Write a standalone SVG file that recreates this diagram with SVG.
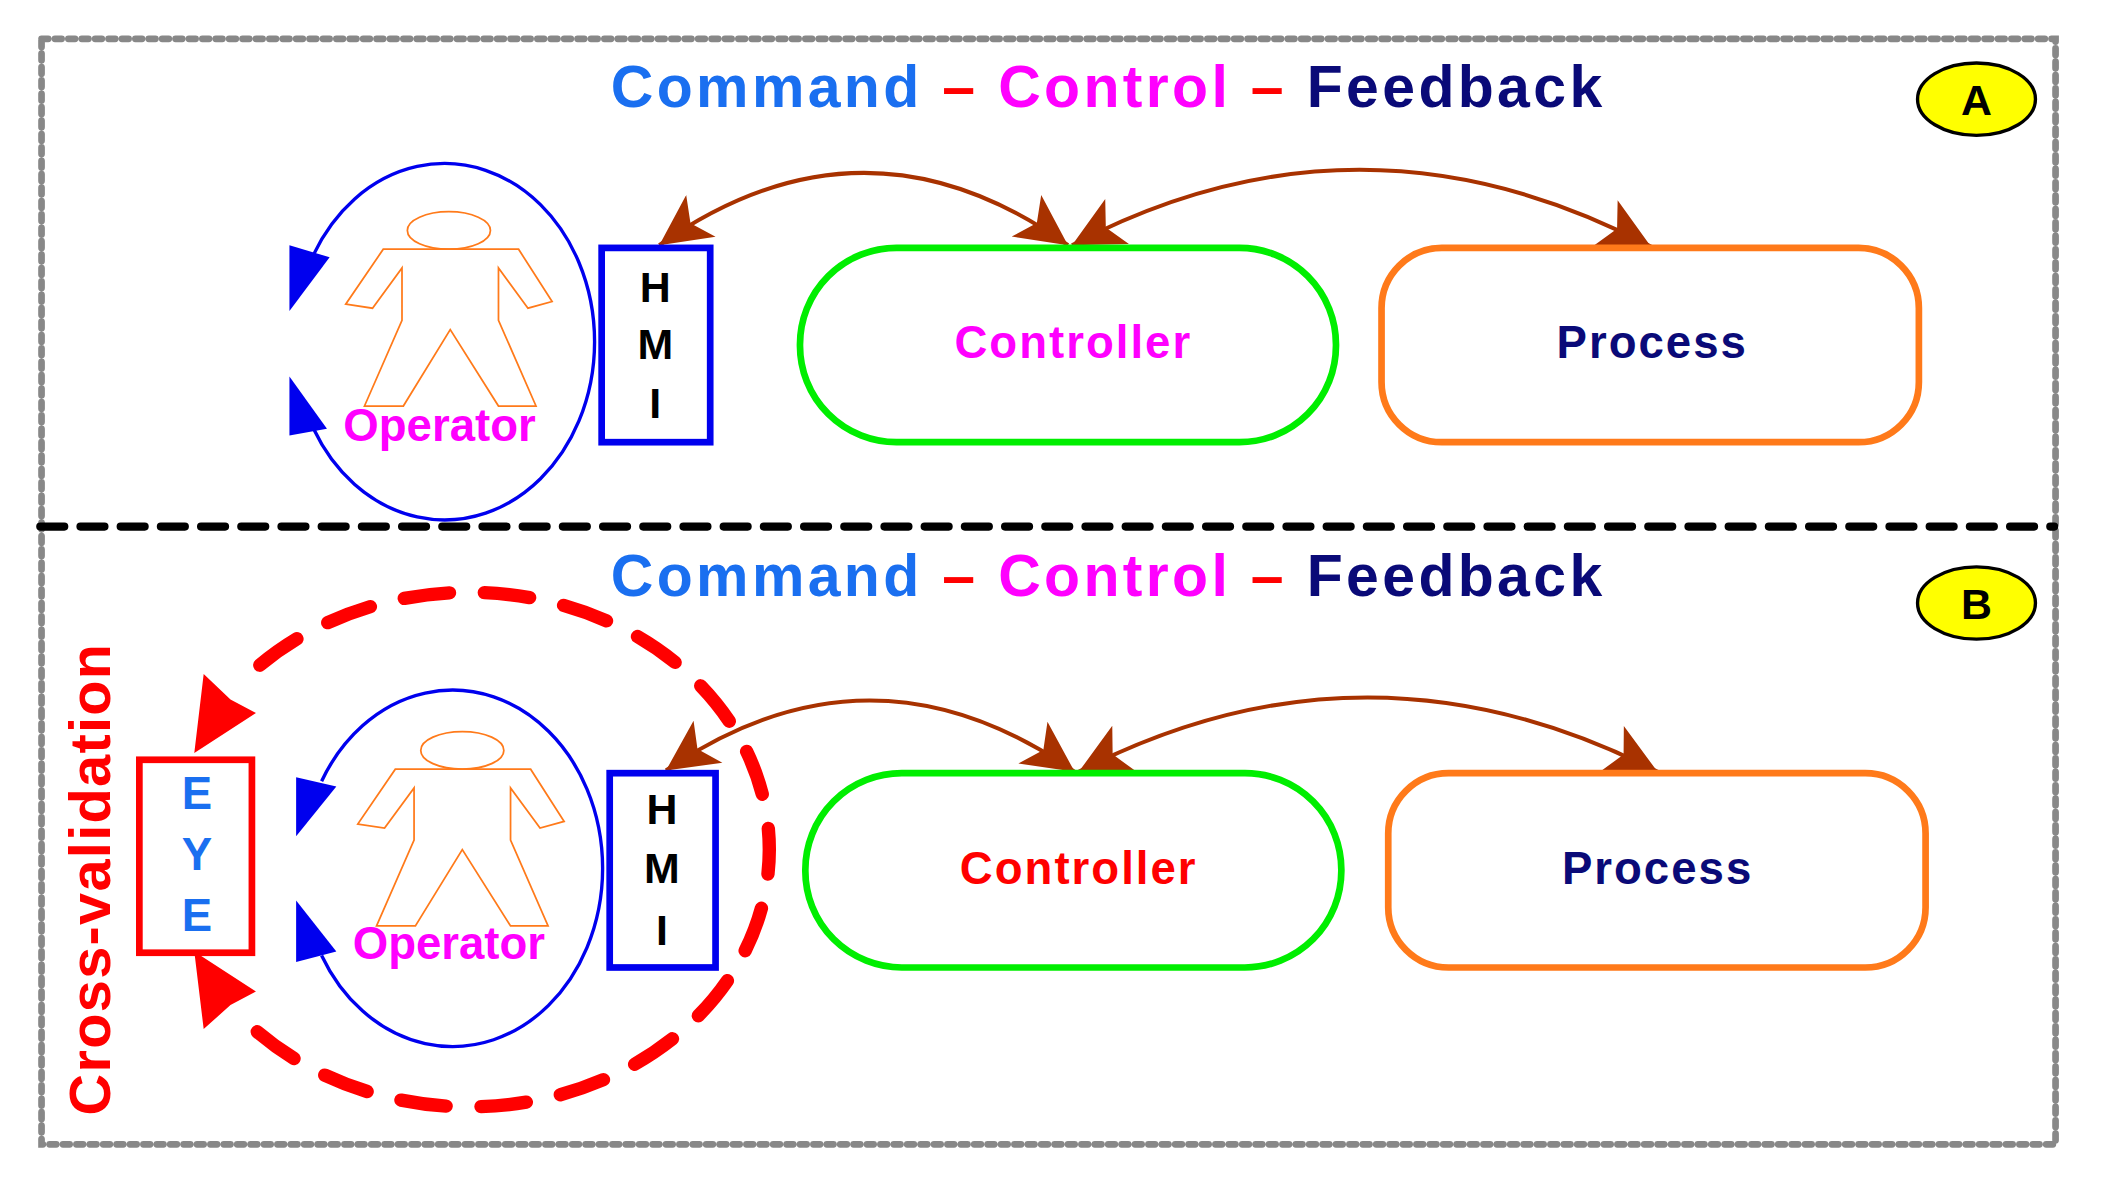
<svg xmlns="http://www.w3.org/2000/svg" width="2101" height="1180" viewBox="0 0 2101 1180">
<style>
text{font-family:"Liberation Sans",Arial,sans-serif;font-weight:bold;text-anchor:middle}
.t{font-size:44px;letter-spacing:2.5px}
.fig{fill:none;stroke:#ff7a1a;stroke-width:1.3}
.op{fill:none;stroke:#0000ee;stroke-width:2.5}
.bhd{fill:#0000ee}
.rhd{fill:#ff0000}
.brown{fill:none;stroke:#a83200;stroke-width:3}
.hmi{fill:#fff;stroke:#0000ee;stroke-width:5}
.ctl{fill:#fff;stroke:#00ee00;stroke-width:5}
.prc{fill:#fff;stroke:#ff7a1a;stroke-width:5}
.lab{font-size:32px}
.box{font-size:34px;letter-spacing:1.5px}
.opl{font-size:34px;fill:#ff00ff}
</style>
<defs>
<marker id="bh" viewBox="0 0 10 10" refX="10" refY="5" markerWidth="46" markerHeight="38" markerUnits="userSpaceOnUse" orient="auto-start-reverse"><path d="M0,0 L10,5 L0,10 L2.5,5z" fill="#a83200"/></marker>
</defs>
<rect width="2101" height="1180" fill="#fff"/>
<g transform="scale(1.34)">
<g id="frame">
<rect x="31" y="29" width="1503" height="825" fill="none" stroke="#888" stroke-width="5" stroke-dasharray="5 5" stroke-linecap="round"/>
<line x1="30" y1="393" x2="1533" y2="393" stroke="#000" stroke-width="6" stroke-dasharray="18 12" stroke-linecap="round"/>
</g>
<g id="titleA"><text class="t" x="827" y="80"><tspan fill="#1a6ff0">Command</tspan><tspan fill="#ff0000"> – </tspan><tspan fill="#ff00ff">Control</tspan><tspan fill="#ff0000"> – </tspan><tspan fill="#0a0a78">Feedback</tspan></text></g>
<g id="titleB"><text class="t" x="827" y="445"><tspan fill="#1a6ff0">Command</tspan><tspan fill="#ff0000"> – </tspan><tspan fill="#ff00ff">Control</tspan><tspan fill="#ff0000"> – </tspan><tspan fill="#0a0a78">Feedback</tspan></text></g>
<g id="badgeA"><ellipse cx="1475" cy="74" rx="44" ry="27" fill="#ffff00" stroke="#000" stroke-width="2.5"/><text x="1475" y="86" font-size="32" fill="#000">A</text></g>
<g id="badgeB"><ellipse cx="1475" cy="450" rx="44" ry="27" fill="#ffff00" stroke="#000" stroke-width="2.5"/><text x="1475" y="462" font-size="32" fill="#000">B</text></g>

<g id="connectors">
<path class="brown" d="M492,183 Q645,75 797,183" marker-start="url(#bh)" marker-end="url(#bh)"/>
<path class="brown" d="M800,183 Q1015,70 1232,184" marker-start="url(#bh)" marker-end="url(#bh)"/>
<path class="brown" d="M497,575 Q650,470 802,576" marker-start="url(#bh)" marker-end="url(#bh)"/>
<path class="brown" d="M805,576 Q1020,465 1237,576" marker-start="url(#bh)" marker-end="url(#bh)"/>
<path d="M192,770 A224 192 0 1 0 192,498" fill="none" stroke="#ff0000" stroke-width="10" stroke-dasharray="34 26" stroke-linecap="round"/>
<polygon class="rhd" points="145,562 152,503 172,522 191,532"/>
<polygon class="rhd" points="145,710 152,768 172,750 191,740"/>
</g>

<g id="operatorA">
<path class="op" d="M234,190 A112 133 0 1 1 234,320"/>
<polygon class="bhd" points="216,232 216,183 246,192"/>
<polygon class="bhd" points="216,281 216,325 244,320"/>
<ellipse class="fig" cx="335" cy="172" rx="31" ry="14"/>
<polygon class="fig" points="286,186 387,186 412,225 394,230 372,200 372,239 400,303 372,303 336,246 301,303 272,303 300,239 300,200 278,230 258,227"/>
<text class="opl" x="328" y="329">Operator</text>
</g>
<g id="operatorB">
<path class="op" d="M240,583 A112 133 0 1 1 240,713"/>
<polygon class="bhd" points="221,624 221,580 251,587"/>
<polygon class="bhd" points="221,672 221,718 251,710"/>
<ellipse class="fig" cx="345" cy="560" rx="31" ry="14"/>
<polygon class="fig" points="295,574 396,574 421,613 403,618 381,588 381,627 409,691 381,691 345,634 310,691 281,691 309,627 309,588 287,618 267,615"/>
<text class="opl" x="335" y="716">Operator</text>
</g>

<g id="hmiA"><rect class="hmi" x="449" y="185" width="81" height="145"/>
<text class="lab" x="489" y="225" fill="#000">H</text><text class="lab" x="489" y="268" fill="#000">M</text><text class="lab" x="489" y="312" fill="#000">I</text></g>
<g id="hmiB"><rect class="hmi" x="455" y="577" width="79" height="145"/>
<text class="lab" x="494" y="615" fill="#000">H</text><text class="lab" x="494" y="659" fill="#000">M</text><text class="lab" x="494" y="705" fill="#000">I</text></g>

<g id="controllerA"><rect class="ctl" x="597" y="185" width="400" height="145" rx="72"/><text class="box" x="801" y="267" fill="#ff00ff">Controller</text></g>
<g id="processA"><rect class="prc" x="1031" y="185" width="401" height="145" rx="45"/><text class="box" x="1233" y="267" fill="#0a0a78">Process</text></g>
<g id="controllerB"><rect class="ctl" x="601" y="577" width="400" height="145" rx="72"/><text class="box" x="805" y="660" fill="#ff0000">Controller</text></g>
<g id="processB"><rect class="prc" x="1036" y="577" width="401" height="145" rx="45"/><text class="box" x="1237" y="660" fill="#0a0a78">Process</text></g>

<g id="eye"><rect x="104" y="567" width="84" height="144" fill="#fff" stroke="#ff0000" stroke-width="5"/>
<text x="147" y="604" font-size="34" fill="#1a6ff0" font-weight="normal">E</text><text x="147" y="649" font-size="34" fill="#1a6ff0" font-weight="normal">Y</text><text x="147" y="695" font-size="34" fill="#1a6ff0" font-weight="normal">E</text></g>
<g id="crossval"><text transform="translate(82,656) rotate(-90)" font-size="43" fill="#ff0000" letter-spacing="1">Cross-validation</text></g>
</g>
</svg>
